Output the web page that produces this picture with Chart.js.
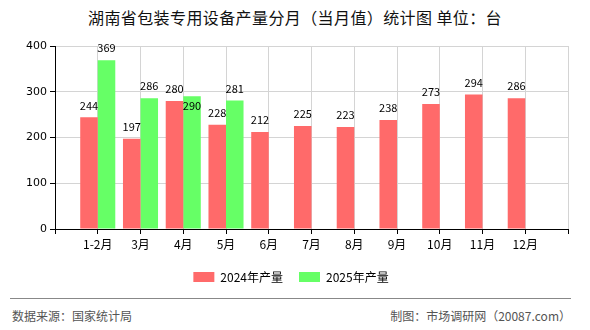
<!DOCTYPE html>
<html>
<head>
<meta charset="utf-8">
<script src="https://cdn.jsdelivr.net/npm/chart.js@4/dist/chart.umd.min.js"></script>
<style>
  html, body { margin: 0; padding: 0; background: #fff; }
  body { width: 590px; height: 330px; position: relative; overflow: hidden;
         font-family: "Noto Sans CJK SC", "DejaVu Sans", sans-serif; }
  #title { position: absolute; left: 0; top: 6px; width: 590px; text-align: center;
           font-size: 16px; letter-spacing: 0.4px; color: #111; line-height: 22px; }
  #wrap { position: absolute; left: 0; top: 0; width: 590px; height: 293px; }
  #rule { position: absolute; left: 10px; top: 298px; width: 561px; height: 0;
          border-top: 1px solid #888; }
  .foot { position: absolute; top: 307px; font-size: 12px; color: #555; line-height: 18px; }
  #src { left: 12px; }
  #by { right: 19px; }
</style>
</head>
<body>
<div id="title">湖南省包装专用设备产量分月（当月值）统计图 单位：台</div>
<div id="wrap"><canvas id="chart"></canvas></div>
<div id="rule"></div>
<div class="foot" id="src">数据来源：国家统计局</div>
<div class="foot" id="by">制图：市场调研网（20087.com）</div>
<script>
/* ── Data ─────────────────────────────────────────────────────── */
var months = ['1-2月', '3月', '4月', '5月', '6月', '7月', '8月', '9月', '10月', '11月', '12月'];
var output2024 = [244, 197, 280, 228, 212, 225, 223, 238, 273, 294, 286];
var output2025 = [369, 286, 290, 281, null, null, null, null, null, null, null];
var yTicks = [0, 100, 200, 300, 400];

var RED = '#ff6a6a';
var GREEN = '#66ff66';
var GRID = '#d4d4d4';

// blank slot at each end so the month ticks sit on grid lines
function padded(arr) { return [null].concat(arr, [null]); }
var labels = [''].concat(months, ['']);

/* ── Value labels above bars, pushed inside when they collide ─── */
var valueLabels = {
  id: 'valueLabels',
  afterDatasetsDraw: function(chart) {
    var ctx = chart.ctx;
    ctx.save();
    ctx.font = "11px 'Noto Sans CJK SC', 'DejaVu Sans', sans-serif";
    ctx.fillStyle = '#000';
    ctx.textAlign = 'center';
    ctx.textBaseline = 'middle';
    var placed = [];
    chart.data.datasets.forEach(function(ds, di) {
      var meta = chart.getDatasetMeta(di);
      meta.data.forEach(function(bar, i) {
        var v = ds.data[i];
        if (v == null) return;
        var w = ctx.measureText(String(v)).width;
        var y = bar.y - 12;
        var box = { l: bar.x - w / 2 - 1, r: bar.x + w / 2 + 1, t: y - 7, b: y + 7 };
        var hit = placed.some(function(p) {
          return box.l < p.r && box.r > p.l && box.t < p.b && box.b > p.t;
        });
        if (hit) {
          y = bar.y + 9;
          box.t = y - 7; box.b = y + 7;
        }
        placed.push(box);
        ctx.fillText(String(v), bar.x, y);
      });
    });
    ctx.restore();
  }
};

new Chart(document.getElementById('chart'), {
  type: 'bar',
  data: {
    labels: labels,
    datasets: [
      { label: '2024年产量', data: padded(output2024), backgroundColor: RED,
        barPercentage: 1, categoryPercentage: 0.82 },
      { label: '2025年产量', data: padded(output2025), backgroundColor: GREEN,
        barPercentage: 1, categoryPercentage: 0.82 }
    ]
  },
  options: {
    responsive: true,
    maintainAspectRatio: false,
    animation: false,
    layout: { padding: { top: 46, right: 8, left: 0, bottom: 0 } },
    scales: {
      x: {
        offset: false,
        grid: { color: GRID, tickColor: '#000', tickLength: 5, offset: false },
        border: { color: '#000' },
        ticks: { color: '#000', padding: 3, maxRotation: 0, autoSkip: false,
                 font: { size: 12, family: "'Noto Sans CJK SC', sans-serif" } },
        afterFit: function(s) { s.height = 26; }
      },
      y: {
        min: 0, max: 400,
        afterBuildTicks: function(s) { s.ticks = yTicks.map(function(v) { return { value: v }; }); },
        grid: { color: GRID, tickColor: '#000', tickLength: 5 },
        border: { color: '#000' },
        ticks: { color: '#000', padding: 3,
                 font: { size: 11, family: "'DejaVu Sans', sans-serif" } },
        afterFit: function(s) { s.width = 55; }
      },
      y2: {
        position: 'right',
        grid: { display: false },
        border: { display: false },
        ticks: { display: false },
        afterFit: function(s) { s.width = 14; }
      }
    },
    plugins: {
      legend: {
        position: 'bottom',
        labels: { boxWidth: 21, boxHeight: 10, padding: 16, color: '#000',
                  font: { size: 12, family: "'Noto Sans CJK SC', sans-serif" } }
      },
      tooltip: { enabled: false }
    }
  },
  plugins: [valueLabels]
});
</script>
</body>
</html>
